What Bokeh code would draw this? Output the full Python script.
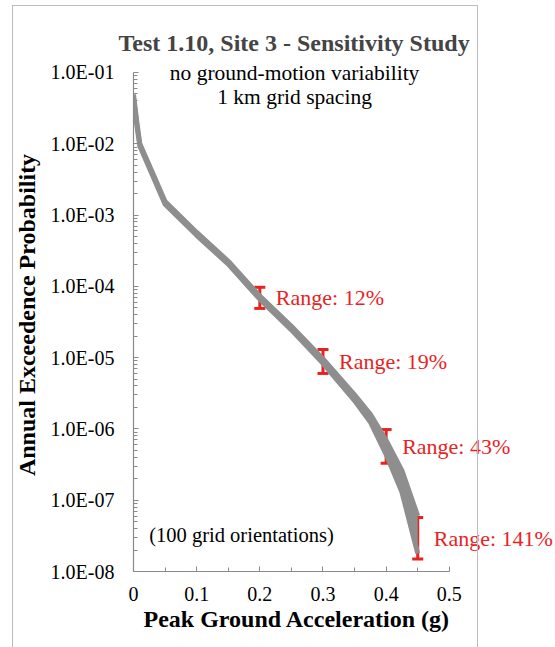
from bokeh.plotting import figure
from bokeh.models import (Range1d, FixedTicker, ColumnDataSource, Whisker, TeeHead,
                          LabelSet, Label, InlineStyleSheet, Title)
from bokeh.embed import file_html
from bokeh.resources import INLINE

# ---- data ----
pga = [0.0, 0.005, 0.01, 0.05, 0.1, 0.15, 0.2, 0.25, 0.3, 0.35, 0.375, 0.4, 0.425, 0.45]
apoe_low = [4.5e-2, 1.9e-2, 9.3e-3, 1.42e-3, 5.2e-4, 2.05e-4, 6.6e-5, 2.45e-5, 8.3e-6, 2.5e-6,
            1.25e-6, 4.4e-7, 1.3e-7, 1.8e-8]
apoe_high = [4.9e-2, 2.1e-2, 1.0e-2, 1.55e-3, 5.7e-4, 2.25e-4, 7.3e-5, 2.75e-5, 9.6e-6, 3.0e-6,
             1.6e-6, 6.9e-7, 2.6e-7, 6.0e-8]

range_x = [0.2, 0.3, 0.4, 0.45]
range_lo = [4.9e-5, 6.0e-6, 3.3e-7, 1.5e-8]
range_hi = [9.7e-5, 1.3e-5, 9.8e-7, 5.7e-8]
range_text = ["Range: 12%", "Range: 19%", "Range: 43%", "Range: 141%"]

x_ticks = [0.0, 0.1, 0.2, 0.3, 0.4, 0.5]
x_tick_labels = ["0", "0.1", "0.2", "0.3", "0.4", "0.5"]
y_ticks = [1e-8, 1e-7, 1e-6, 1e-5, 1e-4, 1e-3, 1e-2, 1e-1]
y_tick_labels = ["1.0E-08", "1.0E-07", "1.0E-06", "1.0E-05", "1.0E-04", "1.0E-03", "1.0E-02", "1.0E-01"]

SERIF = "Liberation Serif"
GRAY = "#8e8e8e"
RED = "#e8231f"

# frame is wider/taller than the axes so the annotations are not clipped;
# the axes themselves are limited with bounds
p = figure(width=555, height=647, output_backend="svg", toolbar_location=None,
           y_axis_type="log", x_range=Range1d(0, 0.665), y_range=Range1d(1e-8, 0.157),
           min_border_left=133, min_border_right=2, min_border_top=58, min_border_bottom=76)
p.outline_line_color = None
p.xgrid.visible = False
p.ygrid.visible = False
p.background_fill_color = "white"
p.border_fill_color = "white"

p.title.text = "Test 1.10, Site 3 - Sensitivity Study"
p.title.text_font = SERIF
p.title.text_font_size = "24px"
p.title.text_font_style = "bold"
p.title.align = "left"
p.title.offset = -15
p.title.standoff = 6

# x-axis title (placed as a title below so it can be centred on the 0-0.5 axis)
p.add_layout(Title(text="Peak Ground Acceleration (g)", align="left", offset=10,
                   text_font=SERIF, text_font_size="24px", text_font_style="bold",
                   text_color="black", standoff=0), "below")

# outer light-gray frame around the chart
p.stylesheets = [InlineStyleSheet(css=(
    ":host{position:relative;}"
    ":host::after{content:'';position:absolute;left:12px;top:5px;width:466px;height:700px;"
    "border:1.5px solid #bdbdbd;pointer-events:none;box-sizing:border-box;}"))]

# band of 100 curves
p.varea(x=pga, y1=apoe_low, y2=apoe_high, fill_color=GRAY)
p.line(pga, apoe_low, line_color=GRAY, line_width=5, line_join="round")
p.line(pga, apoe_high, line_color=GRAY, line_width=5, line_join="round")

# range bars
src = ColumnDataSource(dict(x=range_x, lo=range_lo, hi=range_hi,
                            mid=[(a * b) ** 0.5 for a, b in zip(range_lo, range_hi)],
                            text=range_text))
p.add_layout(Whisker(base="x", lower="lo", upper="hi", source=src,
                     line_color=RED, line_width=3,
                     upper_head=TeeHead(size=11, line_color=RED, line_width=3),
                     lower_head=TeeHead(size=11, line_color=RED, line_width=3)))
p.add_layout(LabelSet(x="x", y="mid", text="text", source=src, x_offset=16,
                      text_baseline="middle", text_color=RED, text_font=SERIF,
                      text_font_size="22px"))

# annotations
for txt, xx, yy, fs in [("no ground-motion variability", 0.255, 0.097, "21.5px"),
                        ("1 km grid spacing", 0.255, 0.0447, "21.5px"),
                        ("(100 grid orientations)", 0.171, 3.3e-8, "20.5px")]:
    p.add_layout(Label(x=xx, y=yy, text=txt, text_align="center", text_baseline="middle",
                       text_font=SERIF, text_font_size=fs, text_color="black"))

# axes
for ax in (p.xaxis[0], p.yaxis[0]):
    ax.axis_line_color = "#8a8a8a"
    ax.axis_line_width = 1.2
    ax.major_tick_line_color = "#8a8a8a"
    ax.minor_tick_line_color = "#8a8a8a"
    ax.major_tick_in = 5
    ax.major_tick_out = 0
    ax.minor_tick_in = 4
    ax.minor_tick_out = 0
    ax.major_label_text_font = SERIF
    ax.major_label_text_font_size = "20px"
    ax.major_label_text_color = "black"
    ax.axis_label_text_font = SERIF
    ax.axis_label_text_font_size = "24px"
    ax.axis_label_text_font_style = "bold"
    ax.axis_label_text_color = "black"

p.xaxis.bounds = (0, 0.5)
p.xaxis.ticker = FixedTicker(ticks=x_ticks, minor_ticks=[0.05, 0.15, 0.25, 0.35, 0.45])
p.xaxis.major_label_overrides = dict(zip(x_ticks, x_tick_labels))
p.xaxis.major_label_standoff = 15

minor_y = [k * 10.0 ** e for e in range(-8, -1) for k in range(2, 10)]
p.yaxis.bounds = (1e-8, 1e-1)
p.yaxis.ticker = FixedTicker(ticks=y_ticks, minor_ticks=minor_y)
p.yaxis.major_label_overrides = dict(zip(y_ticks, y_tick_labels))
p.yaxis.axis_label = "Annual Exceedence Probability"
p.yaxis.major_label_standoff = 19
p.yaxis.axis_label_standoff = 8

open("out.html", "w").write(file_html(p, INLINE))
